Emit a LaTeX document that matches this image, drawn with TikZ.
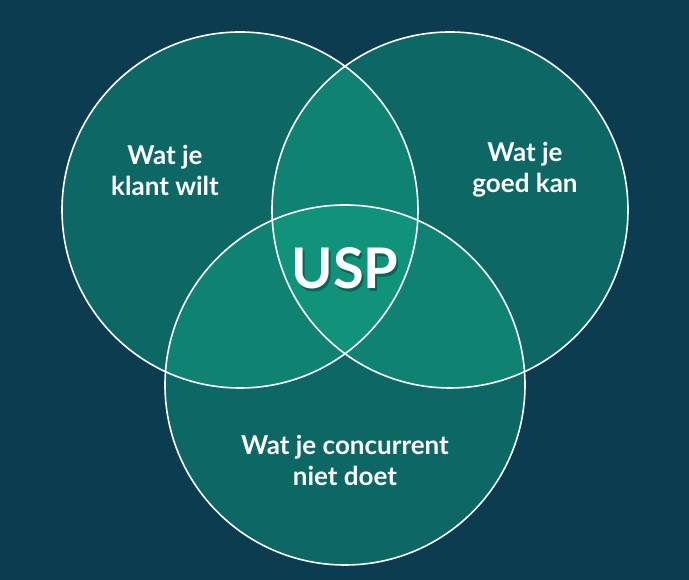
\documentclass[tikz,border=0pt]{standalone}
\usepackage{fontspec}
\setmainfont{Lato}
\definecolor{bgc}{RGB}{11,60,79}
\definecolor{cc}{RGB}{18,170,136}
\begin{document}
\begin{tikzpicture}[x=1pt,y=1pt,
  circ/.style={draw=white,line width=1.6pt,circle,inner sep=0},
  lbl/.style={text=white,font=\fontsize{26}{31}\selectfont\bfseries,align=center}]
\fill[bgc] (0,0) rectangle (689,580);
\useasboundingbox (0,0) rectangle (689,580);
\fill[cc,opacity=0.4] (240,370) circle (178);
\fill[cc,opacity=0.4] (450,370) circle (178);
\fill[cc,opacity=0.4] (345,195) circle (180);
\node[circ,minimum size=356pt] (L) at (240,370) {};
\node[circ,minimum size=356pt] (R) at (450,370) {};
\node[circ,minimum size=360pt] (B) at (345,195) {};
\node[lbl] (tl) at (165,410) {Wat je\\klant wilt};
\node[lbl] (tr) at (525,410) {Wat je\\goed kan};
\node[lbl] (tb) at (345,120) {Wat je concurrent\\niet doet};
\node[text=black,opacity=0.3,font=\fontsize{56}{64}\selectfont\bfseries] at (347,309) {USP};
\node[text=white,font=\fontsize{56}{64}\selectfont\bfseries] (usp) at (345,312) {USP};
\end{tikzpicture}
\end{document}
